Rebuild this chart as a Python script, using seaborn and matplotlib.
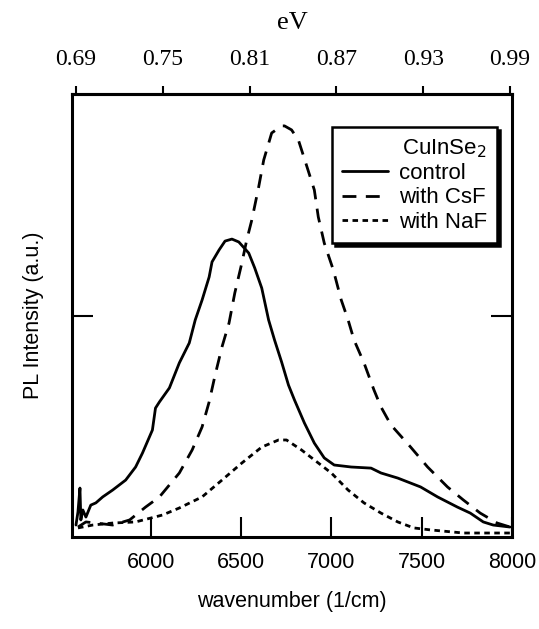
import matplotlib
matplotlib.use("Agg")
import matplotlib.pyplot as plt
import seaborn as sns

# ---------------- data ----------------
wn_control = [5587, 5598, 5609, 5614, 5625, 5642, 5669, 5697, 5735, 5790, 5862, 5917,
              5955, 6010, 6027, 6049, 6104, 6159, 6214, 6247, 6285, 6324, 6340, 6379,
              6412, 6450, 6488, 6543, 6576, 6615, 6653, 6686, 6725, 6763, 6796, 6851,
              6906, 6961, 7016, 7110, 7220, 7275, 7368, 7494, 7588, 7698, 7769, 7841,
              7896, 7989]
int_control = [0.054, 0.113, 0.221, 0.077, 0.122, 0.090, 0.144, 0.154, 0.181, 0.212,
               0.257, 0.316, 0.379, 0.483, 0.582, 0.610, 0.673, 0.786, 0.876, 0.980,
               1.070, 1.174, 1.242, 1.296, 1.336, 1.345, 1.332, 1.282, 1.215, 1.124,
               0.980, 0.889, 0.790, 0.686, 0.619, 0.515, 0.424, 0.357, 0.325, 0.316,
               0.311, 0.289, 0.266, 0.226, 0.181, 0.135, 0.108, 0.068, 0.054, 0.045]

wn_csf = [5598, 5642, 5697, 5790, 5884, 5972, 6049, 6159, 6230, 6285, 6324, 6357,
          6395, 6434, 6466, 6505, 6532, 6560, 6598, 6626, 6670, 6725, 6741, 6780,
          6818, 6862, 6906, 6928, 6961, 7011, 7055, 7093, 7126, 7181, 7236, 7275,
          7330, 7439, 7533, 7643, 7731, 7824, 7918, 7989]
int_csf = [0.045, 0.068, 0.063, 0.054, 0.077, 0.135, 0.181, 0.289, 0.393, 0.497,
           0.610, 0.731, 0.858, 0.966, 1.102, 1.237, 1.341, 1.431, 1.580, 1.702,
           1.824, 1.856, 1.856, 1.838, 1.792, 1.680, 1.567, 1.445, 1.327, 1.206,
           1.070, 0.980, 0.889, 0.786, 0.664, 0.587, 0.506, 0.406, 0.316, 0.226,
           0.167, 0.108, 0.063, 0.045]

wn_naf = [5598, 5680, 5790, 5917, 6065, 6159, 6285, 6395, 6505, 6615, 6708, 6752,
          6835, 6906, 7000, 7093, 7181, 7275, 7368, 7456, 7549, 7731, 7989]
int_naf = [0.041, 0.054, 0.063, 0.068, 0.099, 0.131, 0.181, 0.257, 0.334, 0.406,
           0.438, 0.438, 0.393, 0.348, 0.289, 0.212, 0.154, 0.108, 0.068, 0.041,
           0.032, 0.018, 0.018]

series_labels = ["control", "with CsF", "with NaF"]
legend_title = "CuInSe$_2$"
bottom_ticks = [6000, 6500, 7000, 7500, 8000]
top_ticks = [0.69, 0.75, 0.81, 0.87, 0.93, 0.99]
top_tick_labels = ["0.69", "0.75", "0.81", "0.87", "0.93", "0.99"]

# ---------------- style ----------------
sns.set_theme(style="white")
plt.rcParams["font.family"] = ["Liberation Sans", "DejaVu Sans"]
plt.rcParams["axes.edgecolor"] = "black"
plt.rcParams["axes.linewidth"] = 2.2
plt.rcParams["xtick.color"] = "black"
plt.rcParams["ytick.color"] = "black"
plt.rcParams["text.color"] = "black"
plt.rcParams["axes.labelcolor"] = "black"

fig = plt.figure(figsize=(5.39, 6.29), dpi=100)
ax = fig.add_axes([72 / 539, 1 - 537 / 629, 440 / 539, 443 / 629])

styles = ["-", (0, (5.0, 3.4)), (0, (2.0, 1.6))]
for wn, it, lab, ls in zip([wn_control, wn_csf, wn_naf],
                           [int_control, int_csf, int_naf],
                           series_labels, styles):
    sns.lineplot(x=wn, y=it, ax=ax, color="black", lw=2.0, linestyle=ls,
                 label=lab, sort=False, estimator=None)

ax.set_xlim(5565, 8000)
ax.set_ylim(0, 2)
ax.set_xticks(bottom_ticks)
ax.set_xticklabels([str(t) for t in bottom_ticks])
ax.set_yticks([1])
ax.tick_params(axis="x", direction="in", length=14.5, width=1.5,
               labelsize=15.5, pad=11, bottom=True, top=False)
ax.tick_params(axis="y", direction="in", length=15, width=1.5,
               left=True, right=True, labelleft=False)
ax.set_xlabel("wavenumber (1/cm)", fontsize=15.5, labelpad=13)
ax.set_ylabel("PL Intensity (a.u.)", fontsize=15.5, labelpad=20)

leg = ax.legend(title=legend_title, loc="upper right",
                bbox_to_anchor=(0.966, 0.925), frameon=True, fancybox=False,
                shadow={"color": "black", "alpha": 1.0}, fontsize=16,
                title_fontsize=16, alignment="right", handlelength=2.05,
                handletextpad=0.5, labelspacing=0.15, borderpad=0.45,
                borderaxespad=0.0)
leg.get_frame().set_edgecolor("black")
leg.get_frame().set_linewidth(1.8)
leg.get_frame().set_facecolor("white")

# ---------------- top (eV) axis ----------------
ax2 = ax.twiny()
ax2.set_xlim(0.68724, 0.99138)
ax2.set_xticks(top_ticks)
ax2.set_xticklabels(top_tick_labels, fontfamily="Liberation Serif")
ax2.tick_params(axis="x", direction="out", length=6, width=1.5,
                labelsize=17, pad=11)
ax2.set_xlabel("eV", fontfamily="Liberation Serif", fontsize=19, labelpad=15)
for s in ["left", "right", "bottom"]:
    ax2.spines[s].set_visible(False)

fig.savefig("out.png", dpi=100)
